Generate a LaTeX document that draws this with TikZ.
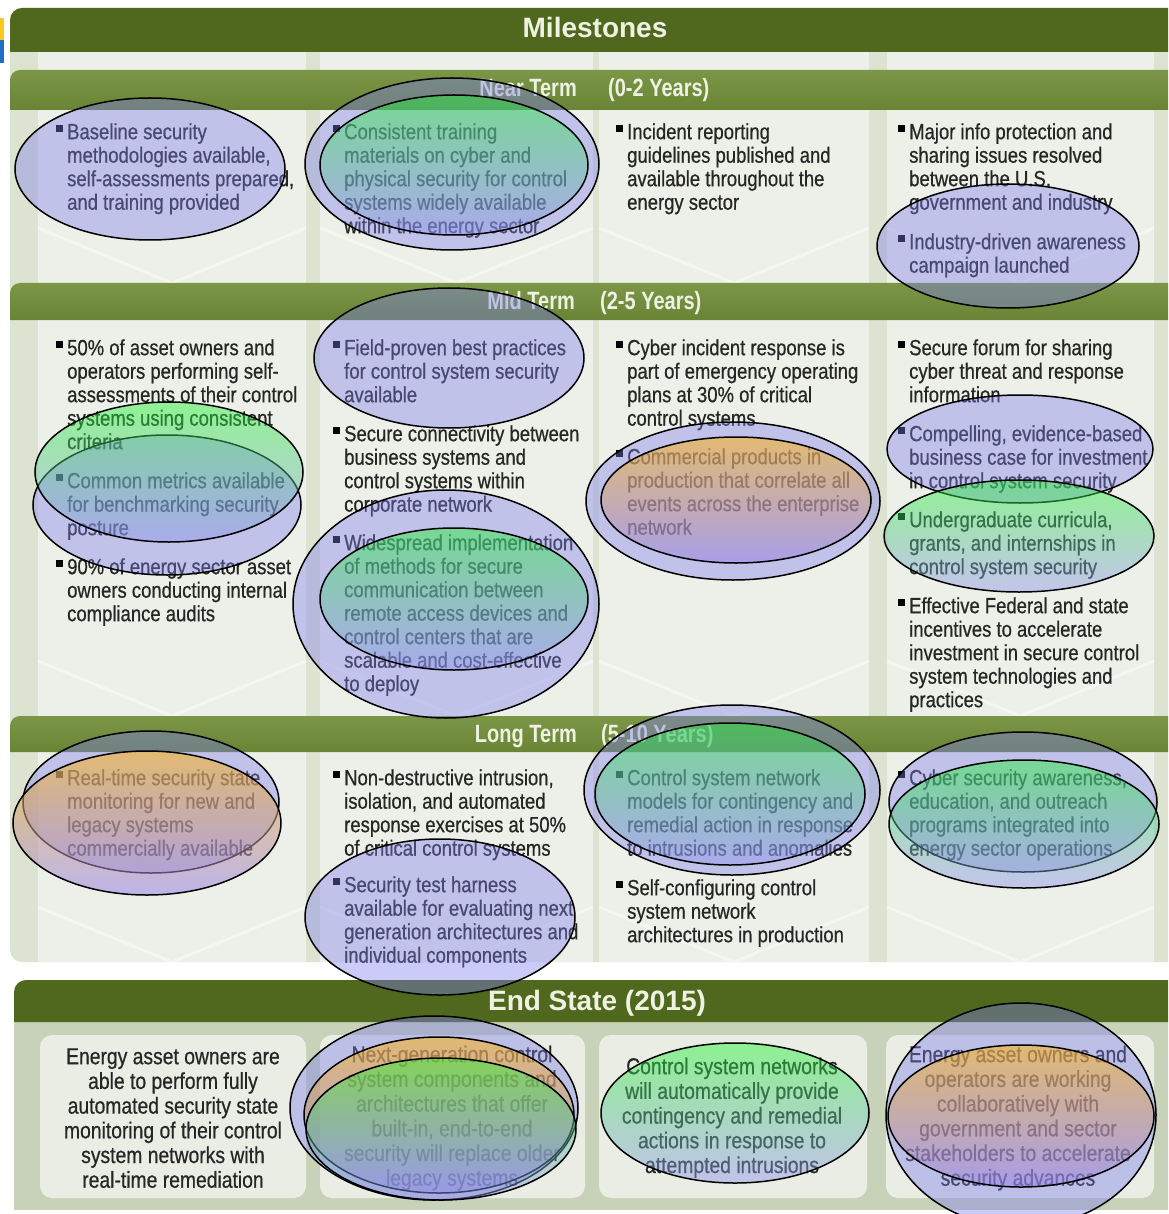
\documentclass[tikz,border=0pt]{standalone}
\usepackage{fontspec}
\setmainfont{Liberation Sans}[FakeStretch=0.84,FakeBold=0.6]
\newfontfamily\headfont{Liberation Sans}[FakeStretch=0.8]
\newfontfamily\widefont{Liberation Sans}
\usetikzlibrary{positioning}

\definecolor{barDark}{RGB}{80,104,30}
\definecolor{barMid}{RGB}{106,132,54}
\definecolor{barTop}{RGB}{124,150,72}
\definecolor{gutter}{RGB}{220,227,209}
\definecolor{colbg}{RGB}{237,240,232}
\definecolor{endbg}{RGB}{200,210,184}
\definecolor{boxbg}{RGB}{233,237,228}
\definecolor{txt}{RGB}{38,38,38}
\definecolor{hdtxt}{RGB}{238,242,226}
\definecolor{lav}{RGB}{125,125,235}
\definecolor{lavlow}{RGB}{145,145,240}
\definecolor{grtop}{RGB}{30,245,45}
\definecolor{grmid}{RGB}{100,210,170}
\definecolor{ortop}{RGB}{255,180,20}
\definecolor{ormid}{RGB}{245,170,120}
\definecolor{orlow}{RGB}{150,130,235}
\definecolor{markY}{RGB}{250,200,30}
\definecolor{markB}{RGB}{30,110,200}

\tikzset{% looks of the milestone chart
  hdtxt/.style={text=hdtxt, inner sep=0pt, font=\headfont\bfseries\fontsize{25}{25}\selectfont},
  bigtxt/.style={text=hdtxt, inner sep=0pt, font=\widefont\bfseries\fontsize{28}{28}\selectfont},
  item/.style={anchor=north west, align=left, inner sep=0pt, text=txt, font=\fontsize{22}{23.5}\selectfont},
  endtxt/.style={anchor=north, align=center, inner sep=0pt, text=txt, font=\fontsize{23}{24.7}\selectfont},
  oval/.style={draw=black, line width=1.5pt},
  purp/.style={oval, fill=lav, fill opacity=0.4},
  grn/.style={oval, top color=grtop, middle color=grmid, bottom color=lavlow, fill opacity=0.45},
  org/.style={oval, top color=ortop, middle color=ormid, bottom color=orlow, fill opacity=0.55},
  chev/.style={white, line width=3pt, opacity=0.4}
}
\newcommand{\bul}{\makebox[0pt][r]{\color{black}\rule[7.5pt]{7pt}{7pt}\hspace{4pt}}\rule{0pt}{17pt}}
\newcommand{\est}{\rule{0pt}{17pt}}

\begin{document}
\begin{tikzpicture}[x=1pt,y=-1pt]
\useasboundingbox (0,0) rectangle (1168,1214);
\clip (0,0) rectangle (1168,1214);
\fill[white] (0,0) rectangle (1168,1214);

% milestones panel
\fill[gutter, rounded corners=12pt] (10,8) rectangle (1190,962);
\foreach \l/\r in {38/306,320/593,599/869,887/1154}
  \fill[colbg] (\l,52) rectangle (\r,962);
\foreach \l/\r in {38/306,320/593,599/869,887/1154}
  \foreach \yb in {283,716,962}
    \draw[chev] (\l,\yb-55) -- ({(\l+\r)/2},\yb) -- (\r,\yb-55);
\fill[barDark] (10,52) [rounded corners=12pt] -- (10,8) -- (1190,8) [sharp corners] -- (1190,52) -- cycle;
\foreach \t/\b in {70/110,283/320,716/752}
  \shade[top color=barTop, bottom color=barMid] (10,\b) [rounded corners=10pt] -- (10,\t) -- (1190,\t) [sharp corners] -- (1190,\b) -- cycle;
\fill[markY] (0,18) rectangle (4,40);
\fill[markB] (0,40) rectangle (4,63);

% end state panel
\fill[endbg] (14,1022) rectangle (1190,1210);
\fill[barDark] (14,1022) [rounded corners=12pt] -- (14,980) -- (1190,980) [sharp corners] -- (1190,1022) -- cycle;
\foreach \l/\r in {40/306,320/585,599/867,886/1154}
  \fill[boxbg, rounded corners=12pt] (\l,1035) rectangle (\r,1198);

% headings
\node[bigtxt, anchor=base] (milestones) at (595,38) {Milestones};
\node[hdtxt, anchor=base east] (nearT) at (577,97) {Near Term};
\node[hdtxt, right=31pt of nearT.base east, anchor=base west] (nearY) {(0-2 Years)};
\node[hdtxt, anchor=base east] (midT) at (575,309) {Mid Term};
\node[hdtxt, right=25pt of midT.base east, anchor=base west] (midY) {(2-5 Years)};
\node[hdtxt, anchor=base east] (longT) at (577,742) {Long Term};
\node[hdtxt, right=24pt of longT.base east, anchor=base west] (longY) {(5-10 Years)};
\node[bigtxt, anchor=base] (endstate) at (597,1010) {End State (2015)};

% near term
\node[item] (near1) at (67,122) {\bul Baseline security\\methodologies available,\\self-assessments prepared,\\and training provided};
\node[item] (near2) at (344,122) {\bul Consistent training\\materials on cyber and\\physical security for control\\systems widely available\\within the energy sector};
\node[item] (near3) at (627,122) {\bul Incident reporting\\guidelines published and\\available throughout the\\energy sector};
\node[item] (near4a) at (909,122) {\bul Major info protection and\\sharing issues resolved\\between the U.S.\\government and industry};
\node[item] (near4b) at (909,232) {\bul Industry-driven awareness\\campaign launched};

% mid term
\node[item] (mid1a) at (67,338) {\bul 50\% of asset owners and\\operators performing self-\\assessments of their control\\systems using consistent\\criteria};
\node[item] (mid1b) at (67,471) {\bul Common metrics available\\for benchmarking security\\posture};
\node[item] (mid1c) at (67,557) {\bul 90\% of energy sector asset\\owners conducting internal\\compliance audits};
\node[item] (mid2a) at (344,338) {\bul Field-proven best practices\\for control system security\\available};
\node[item] (mid2b) at (344,424) {\bul Secure connectivity between\\business systems and\\control systems within\\corporate network};
\node[item] (mid2c) at (344,533) {\bul Widespread implementation\\of methods for secure\\communication between\\remote access devices and\\control centers that are\\scalable and cost-effective\\to deploy};
\node[item] (mid3a) at (627,338) {\bul Cyber incident response is\\part of emergency operating\\plans at 30\% of critical\\control systems};
\node[item] (mid3b) at (627,447) {\bul Commercial products in\\production that correlate all\\events across the enterprise\\network};
\node[item] (mid4a) at (909,338) {\bul Secure forum for sharing\\cyber threat and response\\information};
\node[item] (mid4b) at (909,424) {\bul Compelling, evidence-based\\business case for investment\\in control system security};
\node[item] (mid4c) at (909,510) {\bul Undergraduate curricula,\\grants, and internships in\\control system security};
\node[item] (mid4d) at (909,596) {\bul Effective Federal and state\\incentives to accelerate\\investment in secure control\\system technologies and\\practices};

% long term
\node[item] (long1) at (67,768) {\bul Real-time security state\\monitoring for new and\\legacy systems\\commercially available};
\node[item] (long2a) at (344,768) {\bul Non-destructive intrusion,\\isolation, and automated\\response exercises at 50\%\\of critical control systems};
\node[item] (long2b) at (344,875) {\bul Security test harness\\available for evaluating next\\generation architectures and\\individual components};
\node[item] (long3a) at (627,768) {\bul Control system network\\models for contingency and\\remedial action in response\\to intrusions and anomalies};
\node[item] (long3b) at (627,878) {\bul Self-configuring control\\system network\\architectures in production};
\node[item] (long4) at (909,768) {\bul Cyber security awareness,\\education, and outreach\\programs integrated into\\energy sector operations};

% end state
\node[endtxt] (end1) at (173,1047) {\est Energy asset owners are\\able to perform fully\\automated security state\\monitoring of their control\\system networks with\\real-time remediation};
\node[endtxt] (end2) at (452,1045) {\est Next-generation control\\system components and\\architectures that offer\\built-in, end-to-end\\security will replace older\\legacy systems};
\node[endtxt] (end3) at (732,1057) {\est Control system networks\\will automatically provide\\contingency and remedial\\actions in response to\\attempted intrusions};
\node[endtxt] (end4) at (1018,1045) {\est Energy asset owners and\\operators are working\\collaboratively with\\government and sector\\stakeholders to accelerate\\security advances};

% highlight ovals
\draw[purp] (150,169) ellipse (135 and 71);
\draw[purp] (452,164) ellipse (147 and 86);
\draw[grn] (454,165) ellipse (134 and 70);
\draw[purp] (1008,246) ellipse (131 and 62);
\draw[purp] (449,358) ellipse (135 and 70);
\draw[purp] (167,505) ellipse (134 and 70);
\draw[grn] (169,472) ellipse (134 and 70);
\draw[purp] (446,604) ellipse (153 and 114);
\draw[grn] (454,599) ellipse (134 and 71);
\draw[purp] (733,501) ellipse (147 and 79);
\draw[org] (736,500) ellipse (135 and 63);
\draw[purp] (1020,449) ellipse (133 and 54);
\draw[grn] (1019,536) ellipse (135 and 56);
\draw[purp] (151,802) ellipse (128 and 71);
\draw[org] (147,823) ellipse (134 and 72);
\draw[purp] (440,917) ellipse (135 and 78);
\draw[purp] (732,790) ellipse (148 and 85);
\draw[grn] (730,794) ellipse (135 and 71);
\draw[purp] (1023,802) ellipse (134 and 70);
\draw[grn] (1024,824) ellipse (135 and 64);
\draw[purp] (434,1108) ellipse (144 and 92);
\draw[org] (439,1115) ellipse (135 and 78);
\draw[grn] (441,1129) ellipse (135 and 71);
\draw[grn] (735,1113) ellipse (134 and 70);
\draw[purp] (1021,1115) ellipse (135 and 112);
\draw[org] (1021,1116) ellipse (133 and 71);
\end{tikzpicture}
\end{document}
